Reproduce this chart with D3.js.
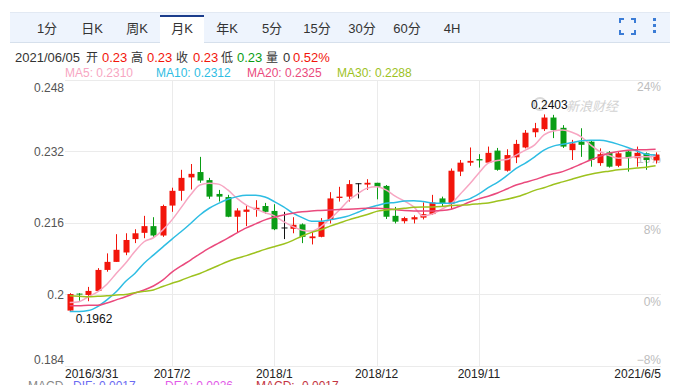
<!DOCTYPE html>
<html>
<head>
<meta charset="utf-8">
<script src="https://cdn.jsdelivr.net/npm/d3@7"></script>
<style>
  body { margin: 0; background: #fff; }
  svg { display: block; font-family: Arial, "Liberation Sans", "Noto Sans CJK SC", sans-serif; }
</style>
</head>
<body>
<svg id="chart" width="678" height="385"></svg>
<script>
const width = 678, height = 385;

// monthly candles, 2016/3 .. 2021/6
const months = [
  "2016/3","2016/4","2016/5","2016/6","2016/7","2016/8","2016/9","2016/10","2016/11","2016/12",
  "2017/1","2017/2","2017/3","2017/4","2017/5","2017/6","2017/7","2017/8","2017/9","2017/10","2017/11","2017/12",
  "2018/1","2018/2","2018/3","2018/4","2018/5","2018/6","2018/7","2018/8","2018/9","2018/10","2018/11","2018/12",
  "2019/1","2019/2","2019/3","2019/4","2019/5","2019/6","2019/7","2019/8","2019/9","2019/10","2019/11","2019/12",
  "2020/1","2020/2","2020/3","2020/4","2020/5","2020/6","2020/7","2020/8","2020/9","2020/10","2020/11","2020/12",
  "2021/1","2021/2","2021/3","2021/4","2021/5","2021/6"
];
const open = [
  0.1964,0.2002,0.1999,0.2008,0.2055,0.2073,0.2094,0.2124,0.2138,0.2153,
  0.2132,0.2199,0.2232,0.2262,0.2274,0.2256,0.2225,0.2218,0.2174,0.2185,0.2190,0.2198,
  0.2187,0.2150,0.2147,0.2157,0.2126,0.2129,0.2167,0.2216,0.2219,0.2249,0.2246,0.2250,
  0.2243,0.2176,0.2164,0.2168,0.2172,0.2180,0.2215,0.2203,0.2275,0.2295,0.2303,0.2295,
  0.2322,0.2277,0.2307,0.2329,0.2363,0.2370,0.2396,0.2373,0.2323,0.2342,0.2342,0.2294,
  0.2318,0.2288,0.2320,0.2305,0.2316,0.2300
];
const high = [
  0.2003,0.2003,0.2017,0.2059,0.2092,0.2135,0.2137,0.2146,0.2176,0.2173,
  0.2201,0.2239,0.2279,0.2292,0.2308,0.2261,0.2234,0.2223,0.2193,0.2200,0.2211,0.2205,
  0.2202,0.2185,0.2173,0.2159,0.2140,0.2171,0.2229,0.2241,0.2256,0.2249,0.2258,0.2250,
  0.2245,0.2196,0.2174,0.2177,0.2206,0.2223,0.2219,0.2282,0.2301,0.2329,0.2314,0.2331,
  0.2328,0.2325,0.2346,0.2368,0.2384,0.2403,0.2402,0.2379,0.2346,0.2372,0.2344,0.2327,
  0.2321,0.2321,0.2323,0.2331,0.2318,0.2318
];
const low = [
  0.1962,0.1986,0.1985,0.2006,0.2051,0.2073,0.2088,0.2115,0.2126,0.2129,
  0.2129,0.2185,0.2210,0.2235,0.2250,0.2214,0.2208,0.2173,0.2139,0.2153,0.2174,0.2181,
  0.2144,0.2124,0.2137,0.2115,0.2112,0.2128,0.2159,0.2208,0.2208,0.2215,0.2234,0.2213,
  0.2169,0.2159,0.2159,0.2159,0.2168,0.2178,0.2197,0.2191,0.2265,0.2288,0.2284,0.2294,
  0.2277,0.2275,0.2294,0.2327,0.2352,0.2366,0.2350,0.2328,0.2301,0.2308,0.2286,0.2288,
  0.2284,0.2285,0.2275,0.2286,0.2279,0.2293
];
const close = [
  0.2001,0.2000,0.2008,0.2055,0.2073,0.2100,0.2122,0.2137,0.2153,0.2132,
  0.2198,0.2232,0.2261,0.2270,0.2255,0.2219,0.2219,0.2174,0.2188,0.2190,0.2194,0.2185,
  0.2146,0.2150,0.2156,0.2129,0.2130,0.2163,0.2215,0.2219,0.2247,0.2249,0.2250,0.2241,
  0.2174,0.2163,0.2171,0.2173,0.2180,0.2206,0.2204,0.2277,0.2295,0.2299,0.2300,0.2317,
  0.2279,0.2312,0.2337,0.2362,0.2372,0.2396,0.2368,0.2331,0.2338,0.2335,0.2301,0.2314,
  0.2286,0.2316,0.2305,0.2317,0.2301,0.2313
];

// moving averages as shown on the chart
const ma5 = [
  0.1982,0.1984,0.1995,0.2006,0.2023,0.2047,0.2070,0.2096,0.2118,0.2127,
  0.2144,0.2167,0.2195,0.2223,0.2245,0.2249,0.2247,0.2234,0.2215,0.2200,0.2191,0.2183,
  0.2176,0.2163,0.2152,0.2144,0.2142,0.2152,0.2169,0.2189,0.2211,0.2226,0.2238,0.2241,
  0.2234,0.2220,0.2209,0.2196,0.2176,0.2180,0.2191,0.2203,0.2225,0.2247,0.2272,0.2294,
  0.2300,0.2302,0.2312,0.2323,0.2335,0.2357,0.2366,0.2368,0.2363,0.2353,0.2335,0.2320,
  0.2311,0.2305,0.2306,0.2308,0.2308,0.2310
];
const ma10 = [
  0.1962,0.1962,0.1964,0.1973,0.1988,0.2006,0.2029,0.2047,0.2070,0.2088,
  0.2106,0.2124,0.2141,0.2159,0.2178,0.2193,0.2204,0.2213,0.2219,0.2222,0.2222,0.2218,
  0.2208,0.2196,0.2182,0.2172,0.2164,0.2164,0.2167,0.2171,0.2176,0.2184,0.2193,0.2199,
  0.2204,0.2206,0.2209,0.2210,0.2208,0.2205,0.2204,0.2204,0.2209,0.2214,0.2225,0.2239,
  0.2251,0.2266,0.2282,0.2294,0.2308,0.2323,0.2332,0.2336,0.2340,0.2344,0.2345,0.2345,
  0.2342,0.2336,0.2329,0.2321,0.2314,0.2312
];
const ma20 = [
  0.1975,0.1975,0.1976,0.1976,0.1981,0.1988,0.1995,0.2003,0.2010,0.2019,
  0.2032,0.2050,0.2064,0.2077,0.2091,0.2104,0.2115,0.2126,0.2138,0.2149,0.2158,0.2167,
  0.2173,0.2178,0.2182,0.2185,0.2187,0.2188,0.2189,0.2190,0.2191,0.2192,0.2193,0.2193,
  0.2192,0.2190,0.2188,0.2187,0.2187,0.2187,0.2188,0.2191,0.2198,0.2207,0.2214,0.2220,
  0.2227,0.2236,0.2245,0.2251,0.2257,0.2264,0.2270,0.2275,0.2283,0.2292,0.2301,0.2309,
  0.2316,0.2320,0.2323,0.2324,0.2324,0.2325
];
const ma30 = [
  0.1997,0.1996,0.1995,0.1996,0.1997,0.1999,0.2000,0.2004,0.2007,0.2010,
  0.2018,0.2025,0.2032,0.2040,0.2047,0.2056,0.2065,0.2074,0.2081,0.2087,0.2094,0.2101,
  0.2107,0.2113,0.2121,0.2131,0.2139,0.2145,0.2153,0.2160,0.2167,0.2173,0.2179,0.2186,
  0.2189,0.2191,0.2193,0.2195,0.2196,0.2196,0.2197,0.2199,0.2200,0.2201,0.2203,0.2205,
  0.2209,0.2213,0.2218,0.2225,0.2233,0.2239,0.2246,0.2252,0.2258,0.2264,0.2269,0.2273,
  0.2276,0.2279,0.2281,0.2283,0.2285,0.2288
];

const yTicks = [0.248, 0.232, 0.216, 0.2, 0.184];
const pctBase = 0.2;
const xTickMonths = ["2016/3", "2017/2", "2018/1", "2018/12", "2019/11", "2021/6"];
const xTickLabels = ["2016/3/31", "2017/2", "2018/1", "2018/12", "2019/11", "2021/6/5"];
const tabs = ["1分", "日K", "周K", "月K", "年K", "5分", "15分", "30分", "60分", "4H"];
const activeTab = "月K";

const RED = "#f2150b", GREEN = "#0a9d15";
const maColors = ["#f7a6c2", "#2ebde3", "#ea4a7d", "#9dc21e"];

let svg = d3.select("#chart").attr("viewBox", [0, 0, width, height]);

// ---- toolbar
let tabX = d3.scalePoint().domain(tabs).range([47, 452]);
svg.append("rect").attr("x", 10).attr("y", 12).attr("width", 660).attr("height", 31)
  .attr("fill", "#eef4fd");
svg.append("line").attr("x1", 10).attr("x2", 670).attr("y1", 42.5).attr("y2", 42.5)
  .attr("stroke", "#d6e0ec");
svg.append("line").attr("x1", 10).attr("x2", 670).attr("y1", 12.5).attr("y2", 12.5)
  .attr("stroke", "#e2e9f3");
svg.append("rect").attr("x", tabX(activeTab) - 22).attr("y", 15).attr("width", 44).attr("height", 28)
  .attr("fill", "#fff");
svg.append("rect").attr("x", tabX(activeTab) - 22).attr("y", 15).attr("width", 44).attr("height", 2)
  .attr("fill", "#1b3d8c");
svg.append("g").selectAll("text").data(tabs).join("text")
  .attr("x", d => tabX(d)).attr("y", 33)
  .attr("text-anchor", "middle").attr("font-size", 13).attr("fill", "#333")
  .text(d => d);

// fullscreen + menu icons
let icon = svg.append("g").attr("stroke", "#3b7cd6").attr("stroke-width", 2).attr("fill", "none");
icon.append("path").attr("d", "M620,23 V19 H624 M631,19 H635 V23 M635,30 V34 H631 M624,34 H620 V30");
svg.append("g").selectAll("rect").data([0, 1, 2]).join("rect")
  .attr("x", 653).attr("y", d => 18 + d * 6).attr("width", 3).attr("height", 3)
  .attr("fill", "#3b7cd6");

// ---- info line
const last = open.length - 1;
const fmt2 = d3.format(".2f");
const chg = (close[last] - close[last - 1]) / close[last - 1];
let info = [
  ["2021/06/05", 15, "#333", 13], ["开", 86, "#333", 12], [fmt2(open[last]), 102, RED, 13],
  ["高", 131, "#333", 12], [fmt2(high[last]), 147, RED, 13], ["收", 176, "#333", 12],
  [fmt2(close[last]), 193, RED, 13], ["低", 221, "#333", 12], [fmt2(low[last]), 237, GREEN, 13],
  ["量", 266, "#333", 12], ["0", 283, "#333", 13], [d3.format(".2%")(chg), 293, RED, 13]
];
svg.append("g").selectAll("text").data(info).join("text")
  .attr("x", d => d[1]).attr("y", 62).attr("font-size", d => d[3]).attr("fill", d => d[2])
  .text(d => d[0]);

// MA legend
const maNames = ["MA5", "MA10", "MA20", "MA30"];
const maSeries = [ma5, ma10, ma20, ma30];
const legendX = [65, 156, 247, 337];
const fmt4 = d3.format(".4f");
svg.append("g").selectAll("text").data(maNames).join("text")
  .attr("x", (d, i) => legendX[i]).attr("y", 77).attr("font-size", 12)
  .attr("fill", (d, i) => maColors[i])
  .text((d, i) => d + ": " + fmt4(maSeries[i][last]));

// ---- scales
const plotL = 65, plotR = 661, plotT = 80, plotB = 366;
let x = d3.scalePoint().domain(months).range([69.7, 655.6]);
let y = d3.scaleLinear().domain([0.184, 0.248]).range([plotB, plotT]);

// grid
let grid = svg.append("g").attr("stroke", "#ebebeb").attr("stroke-width", 1);
grid.selectAll(".h").data(yTicks).join("line")
  .attr("x1", plotL).attr("x2", plotR)
  .attr("y1", d => Math.round(y(d)) + 0.5).attr("y2", d => Math.round(y(d)) + 0.5);
grid.selectAll(".v").data(xTickMonths.slice(1, -1)).join("line")
  .attr("y1", plotT).attr("y2", plotB)
  .attr("x1", d => Math.round(x(d)) + 0.5).attr("x2", d => Math.round(x(d)) + 0.5);

// left axis labels
svg.append("g").selectAll("text").data(yTicks).join("text")
  .attr("x", plotL - 1)
  .attr("y", (d, i) => y(d) + (i === 0 ? 8 : i === yTicks.length - 1 ? -6 : 0))
  .attr("dy", "0.35em").attr("text-anchor", "end").attr("font-size", 12).attr("fill", "#555")
  .text(d => d3.format("~g")(d));

// right axis (percent) labels
svg.append("g").selectAll("text").data(yTicks).join("text")
  .attr("x", plotR)
  .attr("y", (d, i) => y(d) + (i === yTicks.length - 1 ? -6 : 7))
  .attr("dy", "0.35em").attr("text-anchor", "end").attr("font-size", 12).attr("fill", "#bdbdbd")
  .text(d => d3.format(".0f")((d - pctBase) / pctBase * 100) + "%");

// bottom axis labels
svg.append("g").selectAll("text").data(xTickMonths).join("text")
  .attr("x", (d, i) => i === 0 ? plotL : i === xTickMonths.length - 1 ? plotR : x(d))
  .attr("y", 378)
  .attr("text-anchor", (d, i) => i === 0 ? "start" : i === xTickMonths.length - 1 ? "end" : "middle")
  .attr("font-size", 12).attr("fill", "#222")
  .text((d, i) => xTickLabels[i]);

// watermark
svg.append("text").attr("x", 566).attr("y", 111).attr("font-size", 13)
  .attr("font-style", "italic").attr("fill", "#d2d2d2").text("新浪财经");
svg.append("circle").attr("cx", 540).attr("cy", 104).attr("r", 6)
  .attr("fill", "none").attr("stroke", "#d8d8d8").attr("stroke-width", 2);

// ---- candles
const candles = months.map((m, i) => ({ m, o: open[i], h: high[i], l: low[i], c: close[i] }));
const candleColor = d => d.c > d.o ? RED : d.c < d.o ? GREEN : "#111";
let cg = svg.append("g").selectAll("g").data(candles).join("g");
cg.append("line")
  .attr("x1", d => Math.round(x(d.m)) + 0.5).attr("x2", d => Math.round(x(d.m)) + 0.5)
  .attr("y1", d => y(d.h)).attr("y2", d => y(d.l))
  .attr("stroke", candleColor).attr("stroke-width", 1);
cg.append("rect")
  .attr("x", d => Math.round(x(d.m)) - 2.5)
  .attr("width", 6)
  .attr("y", d => y(Math.max(d.o, d.c)))
  .attr("height", d => Math.max(1, Math.abs(y(d.o) - y(d.c))))
  .attr("fill", candleColor);

// ---- MA lines
let line = d3.line().x((d, i) => x(months[i])).y(d => y(d)).curve(d3.curveMonotoneX);
svg.append("g").selectAll("path").data(maSeries).join("path")
  .attr("d", d => line(d))
  .attr("fill", "none")
  .attr("stroke", (d, i) => maColors[i])
  .attr("stroke-width", 1.5);

// extremes
const iMax = d3.maxIndex(high), iMin = d3.minIndex(low);
svg.append("text").attr("x", x(months[iMax]) - 13).attr("y", y(high[iMax]) - 5)
  .attr("font-size", 12).attr("fill", "#111").text(d3.format(".4f")(high[iMax]));
svg.append("text").attr("x", x(months[iMin]) + 6).attr("y", y(low[iMin]) + 12)
  .attr("font-size", 12).attr("fill", "#111").text(d3.format(".4f")(low[iMin]));

// MACD header, cut by the frame as in the source
let macd = [["MACD", 28, "#888"], ["DIF: 0.0017", 73, "#6b6bf2"], ["DEA: 0.0026", 165, "#e25ae8"], ["MACD: -0.0017", 256, "#c3343f"]];
svg.append("g").selectAll("text").data(macd).join("text")
  .attr("x", d => d[1]).attr("y", 390).attr("font-size", 12).attr("fill", d => d[2])
  .text(d => d[0]);
</script>
</body>
</html>
